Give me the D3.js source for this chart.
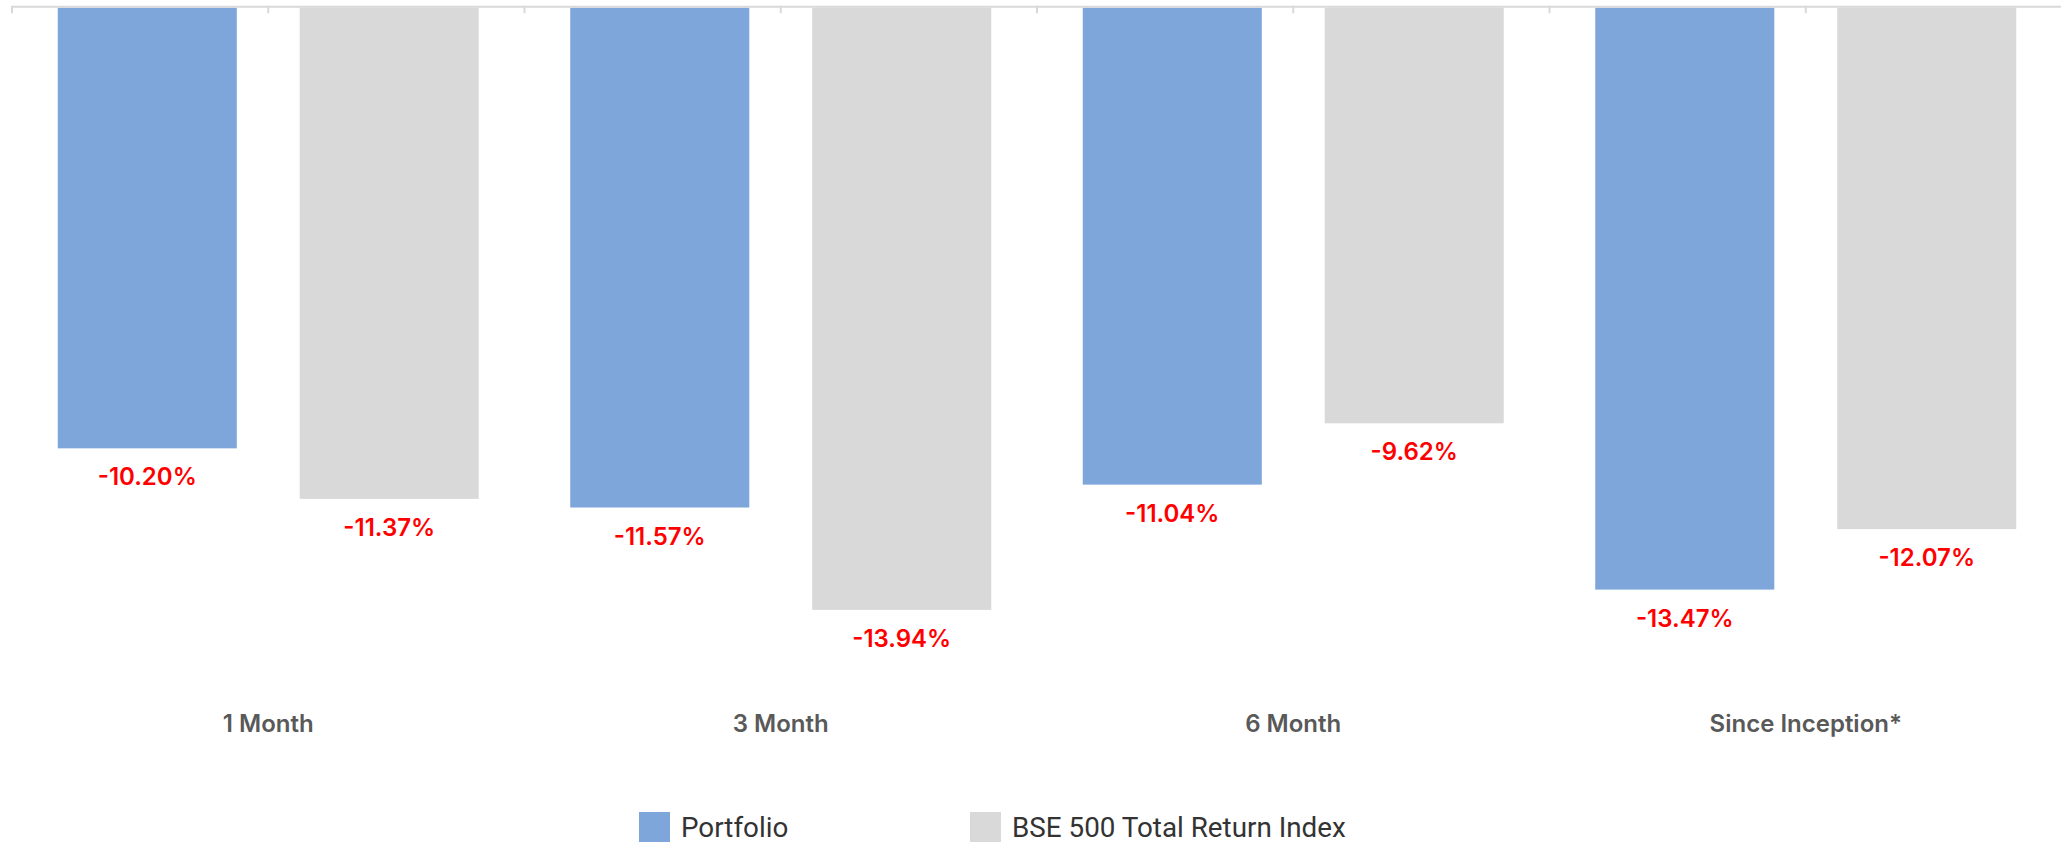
<!DOCTYPE html>
<html>
<head>
<meta charset="utf-8">
<script src="https://cdn.jsdelivr.net/npm/d3@7"></script>
<style>
  html, body { margin: 0; padding: 0; background: #ffffff; }
  svg { display: block; }
  .value-label { font-family: Inter, "Open Sans", sans-serif; font-weight: 600; font-size: 24px; fill: #ff0000; }
  .cat-label   { font-family: Inter, "Open Sans", sans-serif; font-weight: 600; font-size: 24px; fill: #595959; }
  .legend-text { font-family: Roboto, "Noto Sans", sans-serif; font-size: 27.8px; fill: #333333; }
</style>
</head>
<body>
<svg id="chart"></svg>
<script>
// Chart values.
const categories  = [ '1 Month', '3 Month', '6 Month', 'Since Inception*' ];
const seriesNames = [ 'Portfolio', 'BSE 500 Total Return Index' ];
const portfolio   = [ -10.20, -11.57, -11.04, -13.47 ];
const benchmark   = [ -11.37, -13.94,  -9.62, -12.07 ];
const seriesColors = [ '#7ea6db', '#d9d9d9' ];

const width  = 2061;
const height = 842;

const svg = d3.select( '#chart' )
  .attr( 'width', width )
  .attr( 'height', height );

// Category bands and the two bars inside each one.
const x0 = d3.scaleBand( )
  .domain( categories )
  .range( [ 12, 2062 ] )
  .paddingInner( 0.1785 )
  .paddingOuter( 0.1785 / 2 );

const x1 = d3.scaleBand( )
  .domain( seriesNames )
  .range( [ 0, x0.bandwidth( ) ] )
  .paddingInner( 0.26 );

// Value axis: 0 sits at the top, the plot runs down to -16%.
const y = d3.scaleLinear( )
  .domain( [ -16, 0 ] )
  .range( [ 698.9, 7.7 ] );

const rows = categories.map( ( c, i ) => ( {
  category: c,
  values: [ portfolio[i], benchmark[i] ].map( ( v, j ) => ( { series: seriesNames[j], value: v } ) )
} ) );

const groups = svg.selectAll( 'g.cat' )
  .data( rows )
  .enter( )
  .append( 'g' )
    .attr( 'class', 'cat' )
    .attr( 'transform', d => `translate(${x0( d.category )},0)` );

groups.selectAll( 'rect' )
  .data( d => d.values )
  .enter( )
  .append( 'rect' )
    .attr( 'x', d => x1( d.series ) )
    .attr( 'y', y( 0 ) )
    .attr( 'width', x1.bandwidth( ) )
    .attr( 'height', d => y( d.value ) - y( 0 ) )
    .attr( 'fill', ( d, i ) => seriesColors[i] );

groups.selectAll( 'text.value-label' )
  .data( d => d.values )
  .enter( )
  .append( 'text' )
    .attr( 'class', 'value-label' )
    .attr( 'x', d => x1( d.series ) + x1.bandwidth( ) / 2 )
    .attr( 'y', d => y( d.value ) + 37 )
    .attr( 'text-anchor', 'middle' )
    .text( d => d3.format( '.2f' )( d.value ).replace( '−', '-' ) + '%' );

// Category axis along the zero line, with tick marks every half band.
const step   = x0.step( );
const start  = x0.range( )[0];
const tickXs = d3.range( categories.length * 2 + 1 ).map( k => start + k * step / 2 );

const axis = svg.append( 'g' ).attr( 'class', 'x-axis' );
axis.append( 'line' )
  .attr( 'x1', start )
  .attr( 'x2', x0.range( )[1] )
  .attr( 'y1', y( 0 ) - 1 )
  .attr( 'y2', y( 0 ) - 1 )
  .attr( 'stroke', '#d9d9d9' )
  .attr( 'stroke-width', 2 );
axis.selectAll( 'line.tick' )
  .data( tickXs )
  .enter( )
  .append( 'line' )
    .attr( 'class', 'tick' )
    .attr( 'x1', d => d )
    .attr( 'x2', d => d )
    .attr( 'y1', y( 0 ) - 2 )
    .attr( 'y2', y( 0 ) + 5.5 )
    .attr( 'stroke', '#d9d9d9' )
    .attr( 'stroke-width', 2 );

// Category labels sit below the plot area.
svg.selectAll( 'text.cat-label' )
  .data( categories )
  .enter( )
  .append( 'text' )
    .attr( 'class', 'cat-label' )
    .attr( 'x', d => x0( d ) + x0.bandwidth( ) / 2 )
    .attr( 'y', 732 )
    .attr( 'text-anchor', 'middle' )
    .text( d => d );

// Legend at the bottom.
const legendX = [ 639, 970 ];
const legend = svg.selectAll( 'g.legend' )
  .data( seriesNames )
  .enter( )
  .append( 'g' )
    .attr( 'class', 'legend' )
    .attr( 'transform', ( d, i ) => `translate(${legendX[i]},812)` );

legend.append( 'rect' )
  .attr( 'width', 31 )
  .attr( 'height', 31 )
  .attr( 'fill', ( d, i ) => seriesColors[i] );

legend.append( 'text' )
  .attr( 'class', 'legend-text' )
  .attr( 'x', 42 )
  .attr( 'y', 24.5 )
  .text( d => d );
</script>
</body>
</html>
